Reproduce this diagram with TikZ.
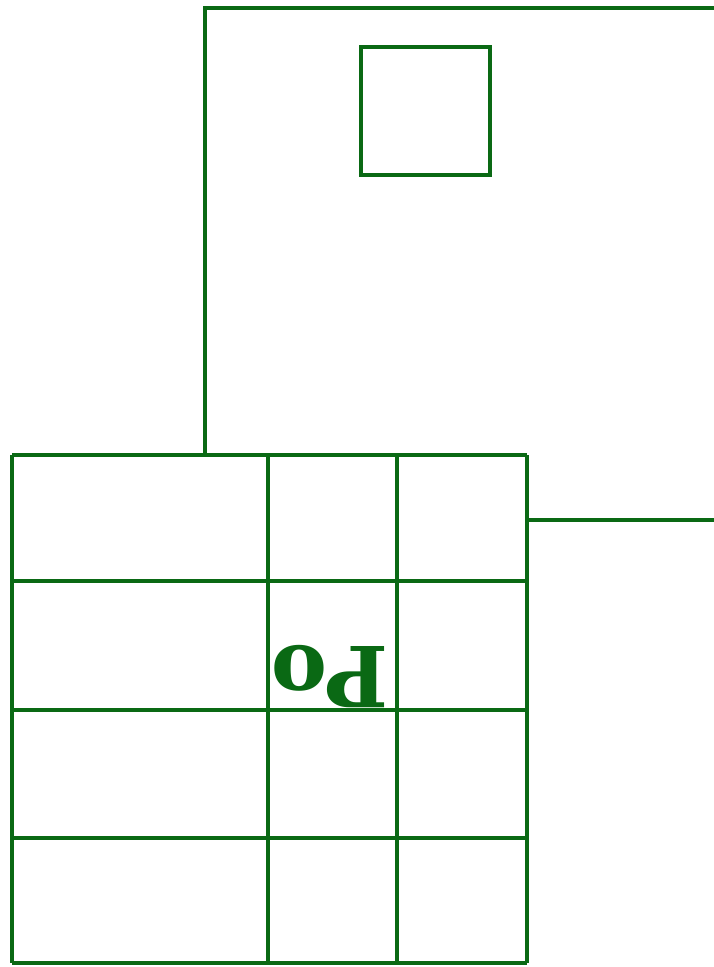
\documentclass[tikz,border=0pt]{standalone}
\usepackage{fontspec}
\newfontfamily\lettre{DejaVu Serif}
\definecolor{vert}{RGB}{10,105,20}
\tikzset{trait/.style={line width=3.5pt,vert}}
\newcommand{\cadre}[2]{\draw[trait] (#1) rectangle (#2)}
\newcommand{\colonne}[1]{\draw[trait] (#1,455) -- (#1,963)}
\newcommand{\rangee}[1]{\draw[trait] (12,#1) -- (527,#1)}

\begin{document}
\begin{tikzpicture}[x=1pt,y=-1pt]
\useasboundingbox (0,0) rectangle (714,967);
%The big sheet
	\draw[trait] (205,456) -- (205,8) -- (714,8);
	\draw[trait] (527,520) -- (714,520);
%The small square
	\cadre{361,47}{490,175};
%The grid
	\fill[white] (12,455) rectangle (527,963);
	\colonne{12};
	\colonne{268};
	\colonne{397};
	\colonne{527};
	\rangee{455};
	\rangee{581};
	\rangee{710};
	\rangee{838};
	\rangee{963};
%The label, upside down
	\node[vert,rotate=180,inner sep=0,font=\lettre\bfseries\fontsize{84}{84}\selectfont] (po) at (330,677) {Po};
\end{tikzpicture}
\end{document}
